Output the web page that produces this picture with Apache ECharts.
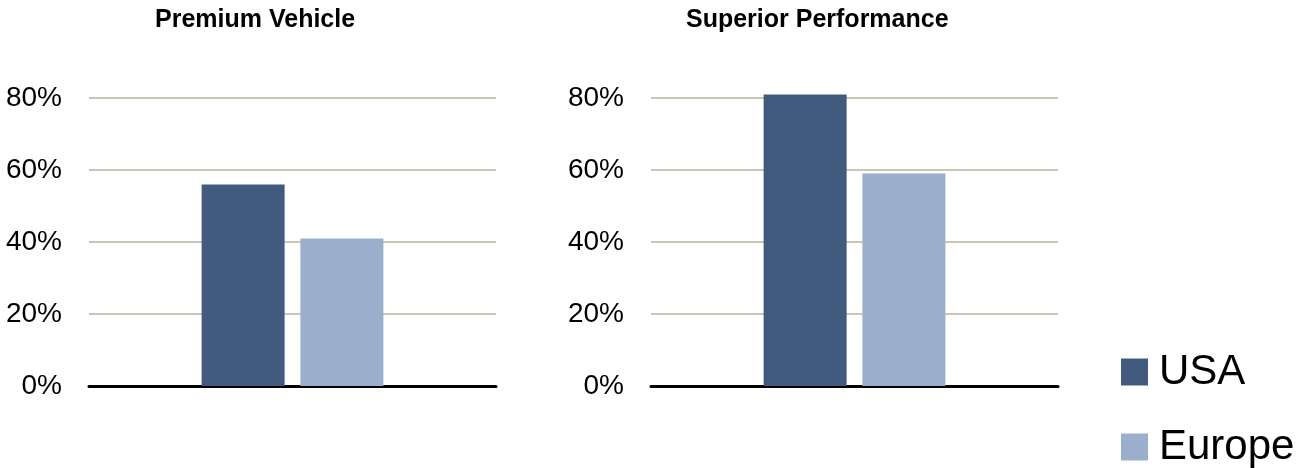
<!DOCTYPE html>
<html>
<head>
<meta charset="utf-8">
<script src="https://cdn.jsdelivr.net/npm/echarts@6/dist/echarts.min.js"></script>
<style>
  html, body { margin: 0; padding: 0; background: #fff; }
  #chart { width: 1298px; height: 468px; }
</style>
</head>
<body>
<div id="chart"></div>
<script>
// data
const panelTitles = ['Premium Vehicle', 'Superior Performance'];
const categories = [''];
const seriesNames = ['USA', 'Europe'];
const usaValues = [56, 81];     // % per panel
const europeValues = [41, 59];  // % per panel
const yMin = 0, yMax = 80, yStep = 20;

const COLORS = { usa: '#415A7E', europe: '#9BAECB', grid: '#C9C6B6', axis: '#000' };
const FONT = '"Liberation Sans Narrow", "Liberation Sans", Arial, sans-serif';

const gridLefts = [89, 651];
const titleLefts = [150, 681];
const legendTops = [351, 426];

const chart = echarts.init(document.getElementById('chart'));

const grids = gridLefts.map(l => ({ left: l, width: 407, top: 98, bottom: 82 }));
const xAxes = gridLefts.map((l, i) => ({
  type: 'category',
  gridIndex: i,
  data: categories,
  axisLine: { lineStyle: { color: COLORS.axis, width: 3 } },
  axisTick: { show: false },
  axisLabel: { show: false }
}));
const yAxes = gridLefts.map((l, i) => ({
  type: 'value',
  gridIndex: i,
  min: yMin,
  max: yMax,
  interval: yStep,
  axisLine: { show: false },
  axisTick: { show: false },
  splitLine: { lineStyle: { color: COLORS.grid, width: 2 } },
  axisLabel: {
    formatter: '{value}%',
    color: '#000',
    fontFamily: FONT,
    fontSize: 28,
    margin: 27
  }
}));

const series = [];
panelTitles.forEach((t, i) => {
  series.push({
    type: 'bar',
    name: seriesNames[0],
    xAxisIndex: i,
    yAxisIndex: i,
    data: [usaValues[i]],
    barWidth: 83,
    barGap: '19%',
    clip: false,
    itemStyle: { color: COLORS.usa }
  });
  series.push({
    type: 'bar',
    name: seriesNames[1],
    xAxisIndex: i,
    yAxisIndex: i,
    data: [europeValues[i]],
    barWidth: 83,
    barGap: '19%',
    clip: false,
    itemStyle: { color: COLORS.europe }
  });
});

chart.setOption({
  animation: false,
  title: panelTitles.map((t, i) => ({
    text: t,
    left: titleLefts[i],
    top: 3,
    textStyle: { fontFamily: FONT, fontWeight: 'bold', fontSize: 25, color: '#000' }
  })),
  // one legend per entry so they stack like the original
  legend: seriesNames.map((n, i) => ({
    data: [n],
    left: 1121,
    top: legendTops[i],
    padding: 0,
    icon: 'rect',
    itemWidth: 27,
    itemHeight: 27,
    textStyle: { fontFamily: FONT, fontSize: 42, color: '#000', padding: [0, 0, 0, 6] }
  })),
  grid: grids,
  xAxis: xAxes,
  yAxis: yAxes,
  series: series
});
</script>
</body>
</html>
